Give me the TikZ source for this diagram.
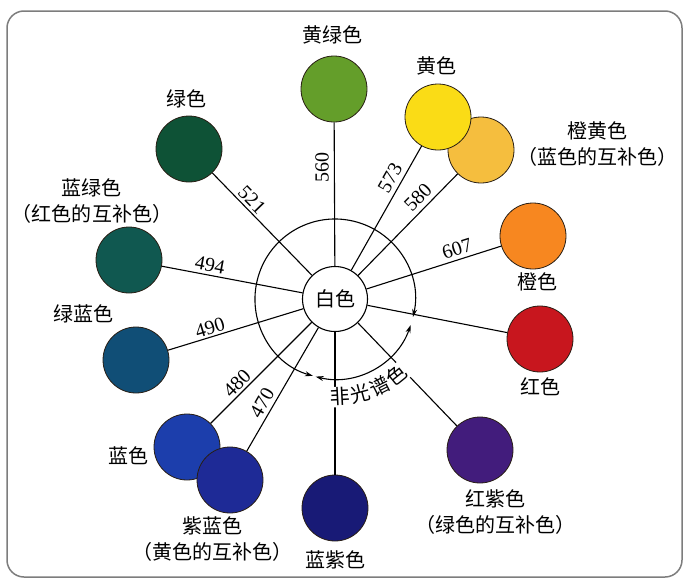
\documentclass[tikz,border=0pt]{standalone}
\usepackage{fontspec}
\setmainfont{Liberation Serif}
\newfontfamily\cjk{Noto Sans CJK SC}
\usetikzlibrary{arrows.meta}
\definecolor{cGY}{RGB}{100,158,42}
\definecolor{cY}{RGB}{250,220,22}
\definecolor{cYO}{RGB}{245,190,62}
\definecolor{cO}{RGB}{247,135,32}
\definecolor{cR}{RGB}{200,22,30}
\definecolor{cRP}{RGB}{66,28,124}
\definecolor{cV}{RGB}{24,26,118}
\definecolor{cVB}{RGB}{30,42,150}
\definecolor{cB}{RGB}{28,62,172}
\definecolor{cGB}{RGB}{16,78,118}
\definecolor{cBG}{RGB}{16,88,80}
\definecolor{cG}{RGB}{14,82,54}
\definecolor{discline}{RGB}{40,30,20}
\definecolor{framegray}{RGB}{125,125,125}
\begin{document}
\begin{tikzpicture}[x=1pt,y=-1pt,
  disc/.style={circle, draw=discline, line width=0.8pt, minimum size=66pt, inner sep=0pt},
  lab/.style={font=\cjk\fontsize{20}{26}\selectfont, align=center, inner sep=0pt},
  num/.style={font=\fontsize{20}{24}\selectfont, inner sep=0pt},
  ray/.style={line width=1.1pt, draw=black},
  ns/.style={font=\cjk\fontsize{20}{24}\selectfont, fill=white, inner sep=1pt},
  tip/.style={{Stealth[length=8pt,width=5pt]}-{Stealth[length=8pt,width=5pt]}},
  frame/.style={draw=framegray, line width=1.5pt, rounded corners=17pt}]
\useasboundingbox (0,0) rectangle (685,581);
\draw[frame] (7,11) rectangle (682,577);

% outer circle in two arcs
\draw[ray, tip] ([shift={(106:80)}]335,299) arc[start angle=106, end angle=373, radius=80];
\draw[ray, tip] ([shift={(19:80)}]335,299) arc[start angle=19, end angle=104, radius=80];

% centre
\node[circle, draw, line width=1.1pt, fill=white, minimum size=65pt, lab] (W) at (335,299) {白色};

% coloured discs
\node[disc, fill=cGY] (GY) at (334,89) {};
\node[disc, fill=cYO] (YO) at (481,150) {};
\node[disc, fill=cY]  (Y)  at (438,117) {};
\node[disc, fill=cO]  (O)  at (533,236) {};
\node[disc, fill=cR]  (R)  at (540,339) {};
\node[disc, fill=cRP] (RP) at (480,450) {};
\node[disc, fill=cV]  (V)  at (335,508) {};
\node[disc, fill=cB]  (B)  at (187,447) {};
\node[disc, fill=cVB] (VB) at (230,480) {};
\node[disc, fill=cGB] (GB) at (136,360) {};
\node[disc, fill=cBG] (BG) at (129,260) {};
\node[disc, fill=cG]  (G)  at (189,149) {};

% rays
\foreach \t in {GY,Y,YO,O,R,RP,V,VB,B,GB,BG,G}
  \draw[ray] (W) -- (\t);

% wavelengths
\node[num, rotate=90]    (n560) at (322,167) {560};
\node[num, rotate=60.4]  (n573) at (390,178) {573};
\node[num, rotate=45.6]  (n580) at (418,197) {580};
\node[num, rotate=17.7]  (n607) at (457,249) {607};
\node[num, rotate=-45.8] (n521) at (252,200) {521};
\node[num, rotate=-10.7] (n494) at (210,265) {494};
\node[num, rotate=17.2]  (n490) at (210,328) {490};
\node[num, rotate=45.1]  (n480) at (237,383) {480};
\node[num, rotate=59.9]  (n470) at (262,403) {470};

% non-spectral label
\foreach \c/\a [count=\i] in {非/87,光/75,谱/63,色/51}
  \node[ns, rotate=90-\a] (ns\i) at ([shift={(\a:98)}]335,299) {\c};

% colour names
\node[lab] (tGY) at (332,35) {黄绿色};
\node[lab] (tY)  at (436,66) {黄色};
\node[lab] (tYO) at (597,144) {橙黄色\\（蓝色的互补色）};
\node[lab] (tO)  at (537,282) {橙色};
\node[lab] (tR)  at (540,387) {红色};
\node[lab] (tRP) at (495,512) {红紫色\\（绿色的互补色）};
\node[lab] (tV)  at (335,560) {蓝紫色};
\node[lab] (tVB) at (212,539) {紫蓝色\\（黄色的互补色）};
\node[lab] (tB)  at (128,456) {蓝色};
\node[lab] (tGB) at (83,314)  {绿蓝色};
\node[lab] (tBG) at (92,201)  {蓝绿色\\（红色的互补色）};
\node[lab] (tG)  at (186,99)  {绿色};
\end{tikzpicture}
\end{document}
